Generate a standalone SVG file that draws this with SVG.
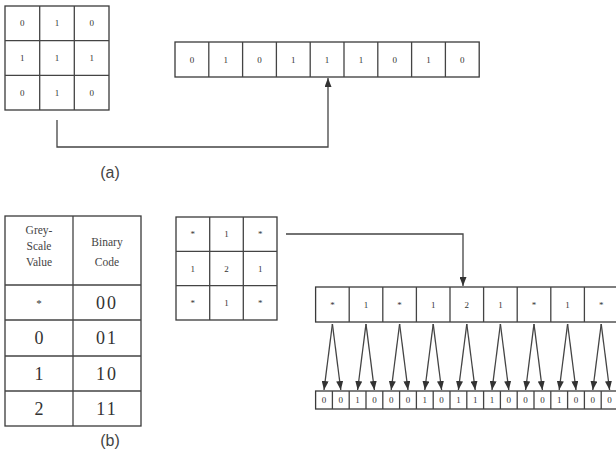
<svg xmlns="http://www.w3.org/2000/svg" width="616" height="460" viewBox="0 0 616 460">
<style>
.c{fill:#fff;stroke:#3a3a3a;stroke-width:1.3}
.t{font-family:"Liberation Serif",serif;font-size:9px;fill:#333;text-anchor:middle;dominant-baseline:central}
.tb{font-family:"Liberation Serif",serif;font-size:18px;fill:#333;text-anchor:middle;dominant-baseline:central}
.th{font-family:"Liberation Serif",serif;font-size:11.5px;fill:#444;text-anchor:middle}
.lab{font-family:"Liberation Sans",sans-serif;font-size:16px;fill:#444;text-anchor:middle}
.ln{fill:none;stroke:#444;stroke-width:1.3}
</style>
<defs>
<marker id="ah" markerUnits="userSpaceOnUse" markerWidth="9" markerHeight="7" refX="9" refY="3.5" orient="auto">
<path d="M0,0 L9,3.5 L0,7 z" fill="#333"/>
</marker>
</defs>
<rect width="616" height="460" fill="#fff"/>

<g id="grid-a">
<rect class="c" x="5" y="6" width="104" height="104"/>
<path class="ln" d="M39.7 6V110M74.3 6V110M5 40.7H109M5 75.3H109"/>
<text class="t" x="22.3" y="23.3">0</text><text class="t" x="57" y="23.3">1</text><text class="t" x="91.7" y="23.3">0</text>
<text class="t" x="22.3" y="58">1</text><text class="t" x="57" y="58">1</text><text class="t" x="91.7" y="58">1</text>
<text class="t" x="22.3" y="92.7">0</text><text class="t" x="57" y="92.7">1</text><text class="t" x="91.7" y="92.7">0</text>
</g>

<g id="strip-a">
<rect class="c" x="175" y="42" width="304.2" height="35"/>
<path class="ln" d="M208.8 42V77M242.6 42V77M276.4 42V77M310.2 42V77M344 42V77M377.8 42V77M411.6 42V77M445.4 42V77"/>
<text class="t" x="191.9" y="59.5">0</text><text class="t" x="225.7" y="59.5">1</text><text class="t" x="259.5" y="59.5">0</text>
<text class="t" x="293.3" y="59.5">1</text><text class="t" x="327.1" y="59.5">1</text><text class="t" x="360.9" y="59.5">1</text>
<text class="t" x="394.7" y="59.5">0</text><text class="t" x="428.5" y="59.5">1</text><text class="t" x="462.3" y="59.5">0</text>
</g>

<g id="label-a"><text class="lab" x="110" y="178">(a)</text></g>

<g id="table-b">
<rect class="c" x="5" y="216" width="136" height="210"/>
<path class="ln" d="M73 216V426M5 285H141M5 320H141M5 356H141M5 391H141"/>
<text class="th" x="39" y="234">Grey-</text>
<text class="th" x="39" y="250">Scale</text>
<text class="th" x="39" y="266">Value</text>
<text class="th" x="107" y="246">Binary</text>
<text class="th" x="107" y="266">Code</text>
<text class="tb" x="39" y="302.5" style="font-size:11px">*</text>
<text class="tb" x="107" y="302.5" letter-spacing="2">00</text>
<text class="tb" x="39" y="338">0</text>
<text class="tb" x="107" y="338" letter-spacing="2">01</text>
<text class="tb" x="39" y="373.5">1</text>
<text class="tb" x="107" y="373.5" letter-spacing="2">10</text>
<text class="tb" x="39" y="408.5">2</text>
<text class="tb" x="107" y="408.5" letter-spacing="2">11</text>
</g>

<g id="label-b"><text class="lab" x="110" y="446">(b)</text></g>

<g id="grid-b">
<rect class="c" x="176" y="217" width="101" height="103"/>
<path class="ln" d="M209.7 217V320M243.3 217V320M176 251.3H277M176 285.7H277"/>
<text class="t" x="192.8" y="234.2">*</text><text class="t" x="226.5" y="234.2">1</text><text class="t" x="260.2" y="234.2">*</text>
<text class="t" x="192.8" y="268.5">1</text><text class="t" x="226.5" y="268.5">2</text><text class="t" x="260.2" y="268.5">1</text>
<text class="t" x="192.8" y="302.8">*</text><text class="t" x="226.5" y="302.8">1</text><text class="t" x="260.2" y="302.8">*</text>
</g>

<g id="strip-b">
<rect class="c" x="315.6" y="287" width="302.4" height="35"/>
<path class="ln" d="M349.2 287V322M382.8 287V322M416.4 287V322M450 287V322M483.6 287V322M517.2 287V322M550.8 287V322M584.4 287V322"/>
<text class="t" x="332.4" y="304.5">*</text><text class="t" x="366" y="304.5">1</text><text class="t" x="399.6" y="304.5">*</text>
<text class="t" x="433.2" y="304.5">1</text><text class="t" x="466.8" y="304.5">2</text><text class="t" x="500.4" y="304.5">1</text>
<text class="t" x="534" y="304.5">*</text><text class="t" x="567.6" y="304.5">1</text><text class="t" x="601.2" y="304.5">*</text>
</g>

<g id="bits-b">
<rect class="c" x="315.6" y="391" width="302.4" height="18"/>
<path class="ln" d="M332.4 391V409M349.2 391V409M366 391V409M382.8 391V409M399.6 391V409M416.4 391V409M433.2 391V409M450 391V409M466.8 391V409M483.6 391V409M500.4 391V409M517.2 391V409M534 391V409M550.8 391V409M567.6 391V409M584.4 391V409M601.2 391V409"/>
<text class="t" x="324" y="400">0</text><text class="t" x="340.8" y="400">0</text>
<text class="t" x="357.6" y="400">1</text><text class="t" x="374.4" y="400">0</text>
<text class="t" x="391.2" y="400">0</text><text class="t" x="408" y="400">0</text>
<text class="t" x="424.8" y="400">1</text><text class="t" x="441.6" y="400">0</text>
<text class="t" x="458.4" y="400">1</text><text class="t" x="475.2" y="400">1</text>
<text class="t" x="492" y="400">1</text><text class="t" x="508.8" y="400">0</text>
<text class="t" x="525.6" y="400">0</text><text class="t" x="542.4" y="400">0</text>
<text class="t" x="559.2" y="400">1</text><text class="t" x="576" y="400">0</text>
<text class="t" x="592.8" y="400">0</text><text class="t" x="609.6" y="400">0</text>
</g>

<g id="connectors">
<path class="ln" d="M57 120V147H328V78" marker-end="url(#ah)"/>
<path class="ln" d="M286 234H463V286" marker-end="url(#ah)"/>
<g class="ln" marker-end="url(#ah)">
<path class="ln" d="M332.4 324L324 390" marker-end="url(#ah)"/><path class="ln" d="M332.4 324L340.8 390" marker-end="url(#ah)"/>
<path class="ln" d="M366 324L357.6 390" marker-end="url(#ah)"/><path class="ln" d="M366 324L374.4 390" marker-end="url(#ah)"/>
<path class="ln" d="M399.6 324L391.2 390" marker-end="url(#ah)"/><path class="ln" d="M399.6 324L408 390" marker-end="url(#ah)"/>
<path class="ln" d="M433.2 324L424.8 390" marker-end="url(#ah)"/><path class="ln" d="M433.2 324L441.6 390" marker-end="url(#ah)"/>
<path class="ln" d="M466.8 324L458.4 390" marker-end="url(#ah)"/><path class="ln" d="M466.8 324L475.2 390" marker-end="url(#ah)"/>
<path class="ln" d="M500.4 324L492 390" marker-end="url(#ah)"/><path class="ln" d="M500.4 324L508.8 390" marker-end="url(#ah)"/>
<path class="ln" d="M534 324L525.6 390" marker-end="url(#ah)"/><path class="ln" d="M534 324L542.4 390" marker-end="url(#ah)"/>
<path class="ln" d="M567.6 324L559.2 390" marker-end="url(#ah)"/><path class="ln" d="M567.6 324L576 390" marker-end="url(#ah)"/>
<path class="ln" d="M601.2 324L592.8 390" marker-end="url(#ah)"/><path class="ln" d="M601.2 324L609.6 390" marker-end="url(#ah)"/>
</g>
</g>
</svg>
